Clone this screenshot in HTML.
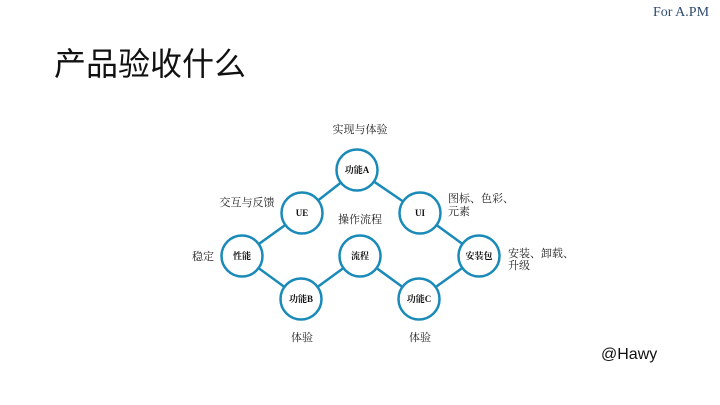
<!DOCTYPE html>
<html><head><meta charset="utf-8"><style>
html,body{margin:0;padding:0;background:#fff;}
body{width:720px;height:405px;position:relative;overflow:hidden;font-family:"Liberation Serif","Noto Serif CJK SC",serif;}
.t{position:absolute;white-space:nowrap;}
</style></head><body>
<div class="t" style="left:653px;top:5px;font-size:14px;color:#2e4a6e;">For A.PM</div>
<div class="t" style="left:54px;top:39px;font-size:32px;font-family:'Liberation Sans','Noto Sans CJK SC',sans-serif;color:#111;">产品验收什么</div>
<div class="t" style="left:601px;top:346px;font-size:16px;font-family:'Liberation Sans',sans-serif;color:#111;">@Hawy</div>
<svg width="720" height="405" style="position:absolute;left:0;top:0" font-family="Liberation Serif, Noto Serif CJK SC, serif">
<g stroke="#1a8ab8" stroke-width="2.5" fill="none">
<line x1="357" y1="170" x2="302" y2="213"/>
<line x1="357" y1="170" x2="420" y2="213"/>
<line x1="302" y1="213" x2="242" y2="256"/>
<line x1="420" y1="213" x2="479" y2="256"/>
<line x1="242" y1="256" x2="301" y2="299"/>
<line x1="301" y1="299" x2="360" y2="256"/>
<line x1="360" y1="256" x2="419" y2="299"/>
<line x1="419" y1="299" x2="479" y2="256"/>
<g fill="#fff">
<circle cx="357" cy="170" r="20.5"/><circle cx="302" cy="213" r="20.5"/><circle cx="420" cy="213" r="20.5"/>
<circle cx="242" cy="256" r="20.5"/><circle cx="360" cy="256" r="20.5"/><circle cx="479" cy="256" r="20.5"/>
<circle cx="301" cy="299" r="20.5"/><circle cx="419" cy="299" r="20.5"/>
</g></g>
<g font-size="9" font-weight="bold" text-anchor="middle" fill="#111">
<text x="357" y="173">功能A</text><text x="302" y="216">UE</text><text x="420" y="216">UI</text>
<text x="242" y="259">性能</text><text x="360" y="259">流程</text><text x="479" y="259">安装包</text>
<text x="301" y="302">功能B</text><text x="419" y="302">功能C</text>
</g>
<g font-size="11" fill="#222">
<text x="360" y="133" text-anchor="middle">实现与体验</text>
<text x="247" y="206" text-anchor="middle">交互与反馈</text>
<text x="448" y="202">图标、色彩、</text><text x="448" y="215">元素</text>
<text x="360" y="223" text-anchor="middle">操作流程</text>
<text x="203" y="260" text-anchor="middle">稳定</text>
<text x="508" y="257">安装、卸载、</text><text x="508" y="269">升级</text>
<text x="302" y="341" text-anchor="middle">体验</text>
<text x="420" y="341" text-anchor="middle">体验</text>
</g>
</svg>
</body></html>
